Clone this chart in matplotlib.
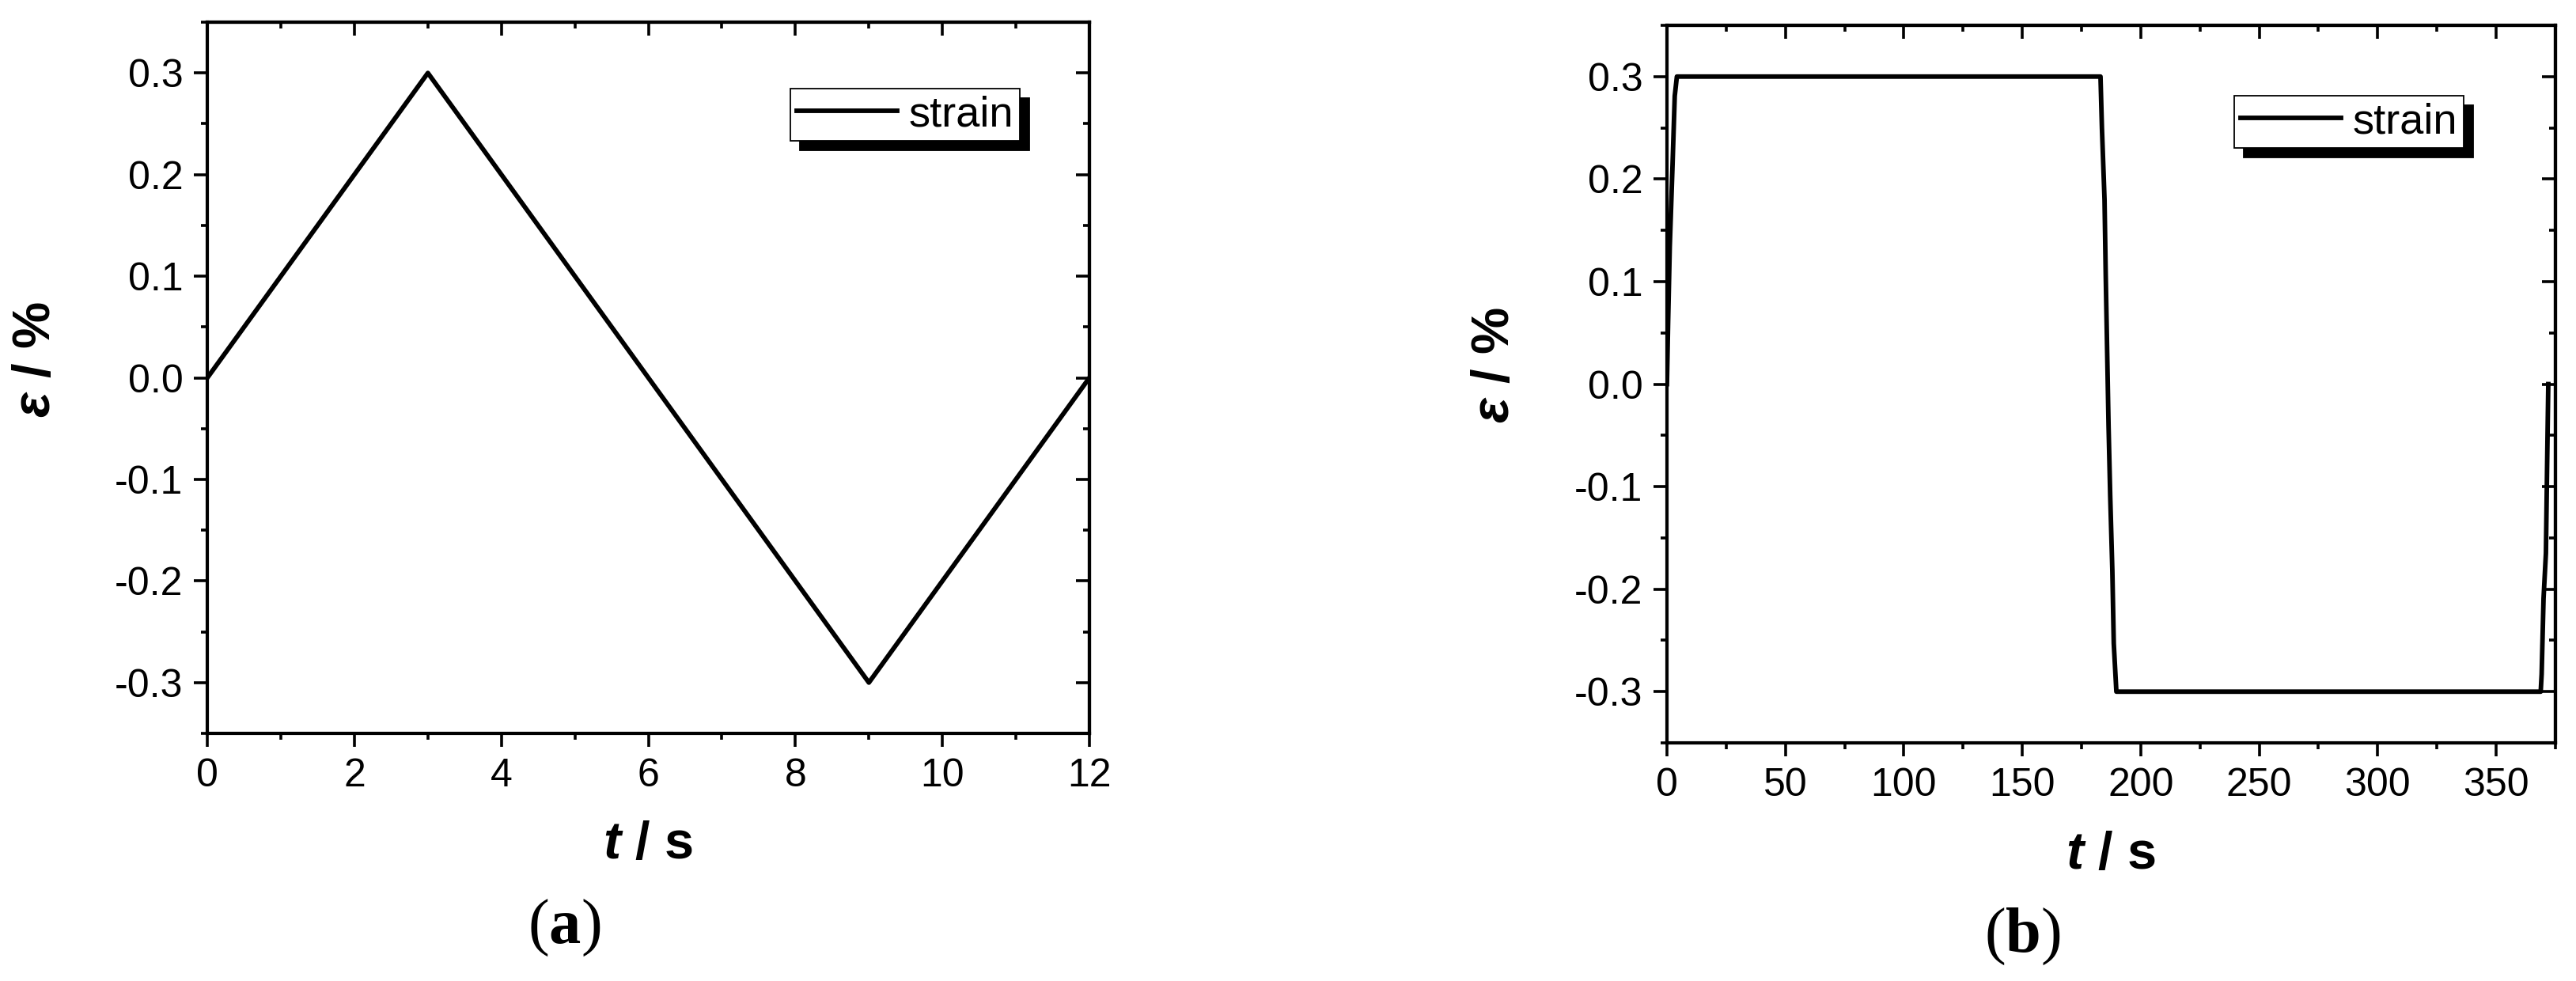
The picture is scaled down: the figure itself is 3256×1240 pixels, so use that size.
import matplotlib
matplotlib.use('Agg')
import matplotlib.pyplot as plt
from matplotlib.ticker import MultipleLocator, FormatStrFormatter

plt.rcParams['font.family'] = ['Liberation Sans', 'DejaVu Sans']
plt.rcParams['axes.unicode_minus'] = False
plt.rcParams['mathtext.fontset'] = 'custom'
plt.rcParams['mathtext.it'] = 'Liberation Sans:italic:bold'
plt.rcParams['mathtext.rm'] = 'Liberation Sans'
plt.rcParams['mathtext.bf'] = 'Liberation Serif:bold'

# (a) triangular strain cycle
t_a = [0, 3, 9, 12]
eps_a = [0.0, 0.3, -0.3, 0.0]

# (b) square-ish strain cycle with hold periods
t_b = [0, 0.5, 1.2, 2.3, 3.3, 4.2,
       183.0, 183.6, 184.7, 185.2, 185.8, 186.4, 187.1, 188.0, 188.6, 189.7,
       368.8, 369.2, 370.0, 371.0, 371.5, 372.0]
eps_b = [0.0, 0.06, 0.134, 0.209, 0.281, 0.3,
         0.3, 0.25, 0.18, 0.107, 0.033, -0.041, -0.109, -0.182, -0.253, -0.3,
         -0.3, -0.283, -0.209, -0.165, -0.08, 0.0]

y_lim = (-0.35, 0.35)
y_major, y_minor = 0.1, 0.05

LW_SPINE = 3.0
LW_LINE = 4.2


def style_axes(ax, xlim, xmajor, xminor):
    ax.set_xlim(*xlim)
    ax.set_ylim(*y_lim)
    ax.xaxis.set_major_locator(MultipleLocator(xmajor))
    ax.xaxis.set_minor_locator(MultipleLocator(xminor))
    ax.yaxis.set_major_locator(MultipleLocator(y_major))
    ax.yaxis.set_minor_locator(MultipleLocator(y_minor))
    ax.yaxis.set_major_formatter(FormatStrFormatter('%.1f'))
    for s in ax.spines.values():
        s.set_linewidth(LW_SPINE)
    ax.tick_params(which='both', direction='out', width=2.6, labelsize=36,
                   top=False, right=False, pad=10)
    ax.tick_params(which='major', length=12)
    ax.tick_params(which='minor', length=6)

    # mirrored axes with inward ticks on top and right, as in Origin
    top = ax.secondary_xaxis('top')
    top.xaxis.set_major_locator(MultipleLocator(xmajor))
    top.xaxis.set_minor_locator(MultipleLocator(xminor))
    top.tick_params(which='both', direction='in', width=2.6,
                    labeltop=False, labelbottom=False)
    top.tick_params(which='major', length=12)
    top.tick_params(which='minor', length=6)
    top.spines['top'].set_linewidth(LW_SPINE)

    right = ax.secondary_yaxis('right')
    right.yaxis.set_major_locator(MultipleLocator(y_major))
    right.yaxis.set_minor_locator(MultipleLocator(y_minor))
    right.tick_params(which='both', direction='in', width=2.6,
                      labelright=False, labelleft=False)
    right.tick_params(which='major', length=12)
    right.tick_params(which='minor', length=6)
    right.spines['right'].set_linewidth(LW_SPINE)

    ax.set_xlabel(r'$t$ / s', fontsize=48, fontweight='bold')
    ax.set_ylabel(r'$\varepsilon$ / %', fontsize=48, fontweight='bold')
    ax.xaxis.set_label_coords(0.5, -0.122)
    ax.yaxis.set_label_coords(-0.166, 0.526)


def add_legend(ax, anchor):
    leg = ax.legend(loc='upper right', bbox_to_anchor=anchor,
                    borderaxespad=0, fontsize=39, handlelength=2.34,
                    handletextpad=0.26, borderpad=0.15, fancybox=False,
                    framealpha=1, edgecolor='black',
                    shadow={'ox': 8.6, 'oy': -8.6, 'color': 'black', 'alpha': 1})
    leg.get_frame().set_linewidth(1.3)


fig = plt.figure(figsize=(32.56, 12.4), dpi=100)

ax_a = fig.add_axes([0.0805, 0.2524, 0.3424, 0.725])
ax_a.plot(t_a, eps_a, color='black', lw=LW_LINE, label='strain')
style_axes(ax_a, (0, 12), 2, 1)
add_legend(ax_a, (0.921, 0.9066))

ax_b = fig.add_axes([0.6471, 0.2427, 0.3449, 0.7315])
ax_b.plot(t_b, eps_b, color='black', lw=LW_LINE, label='strain')
style_axes(ax_b, (0, 375), 50, 25)
add_legend(ax_b, (0.8967, 0.9019))

fig.text(0.219, 0.054, r'($\mathbf{a}$)', fontsize=58, family='Liberation Serif',
         ha='center', va='center')
fig.text(0.785, 0.045, r'($\mathbf{b}$)', fontsize=58, family='Liberation Serif',
         ha='center', va='center')

fig.savefig('out.png', dpi=100, facecolor='white')
